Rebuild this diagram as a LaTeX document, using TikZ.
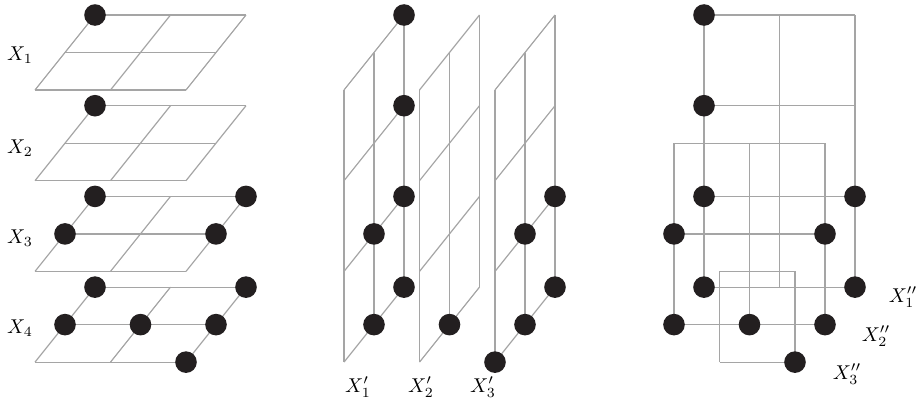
\documentclass[tikz,border=0pt]{standalone}
\definecolor{gridgray}{RGB}{165,165,165}
\definecolor{dotblack}{RGB}{35,31,32}
\tikzset{
  gridline/.style={draw=gridgray,line width=0.6pt},
  dot/.style={circle,fill=dotblack,inner sep=0pt,minimum size=10.8pt},
}
\begin{document}
\begin{tikzpicture}[x={(37.75pt,0pt)},y={(15pt,18.75pt)},z={(0pt,-45.35pt)}]
\useasboundingbox (-17.5pt,45pt) rectangle (442pt,-156pt);
% horizontal layers
\foreach \k in {0,...,3}{
  \foreach \i in {0,1,2}{
    \draw[gridline] (\i,0,\k) -- (\i,2,\k);
    \draw[gridline] (0,\i,\k) -- (2,\i,\k);
  }
}
% side slices
\begin{scope}[xshift=154.5pt]
\foreach \a in {0,1,2}{
  \foreach \b in {0,1,2} \draw[gridline] (\a,\b,0) -- (\a,\b,3);
  \foreach \k in {0,...,3} \draw[gridline] (\a,0,\k) -- (\a,2,\k);
}
\end{scope}
% front slices
\begin{scope}[xshift=304.5pt]
\foreach \b/\amin/\kmin in {2/0/0,1/0/1,0/1/2}{
  \foreach \a in {\amin,...,2} \draw[gridline] (\a,\b,\kmin) -- (\a,\b,3);
  \foreach \k in {\kmin,...,3} \draw[gridline] (\amin,\b,\k) -- (2,\b,\k);
}
\end{scope}
% points
\foreach \p/\s in {l/0pt,m/154.5pt,r/304.5pt}
  \foreach \a/\b/\k in {0/2/0,0/2/1,0/2/2,2/2/2,0/1/2,2/1/2,0/2/3,2/2/3,0/1/3,1/1/3,2/1/3,2/0/3}
    \node[dot,xshift=\s] (\p\a\b\k) at (\a,\b,\k) {};
% labels
\node (x1) at (-7.5pt,17.5pt) {$X_1$};
\node (x2) at (-7.5pt,-29pt) {$X_2$};
\node (x3) at (-7.5pt,-74pt) {$X_3$};
\node (x4) at (-7.5pt,-119pt) {$X_4$};
\node (y1) at (161.5pt,-148.5pt) {$X'_1$};
\node (y2) at (193pt,-148.5pt) {$X'_2$};
\node (y3) at (224pt,-148.5pt) {$X'_3$};
\node (z1) at (434pt,-103.5pt) {$X''_1$};
\node (z2) at (420.5pt,-123pt) {$X''_2$};
\node (z3) at (406pt,-142pt) {$X''_3$};
\end{tikzpicture}
\end{document}
